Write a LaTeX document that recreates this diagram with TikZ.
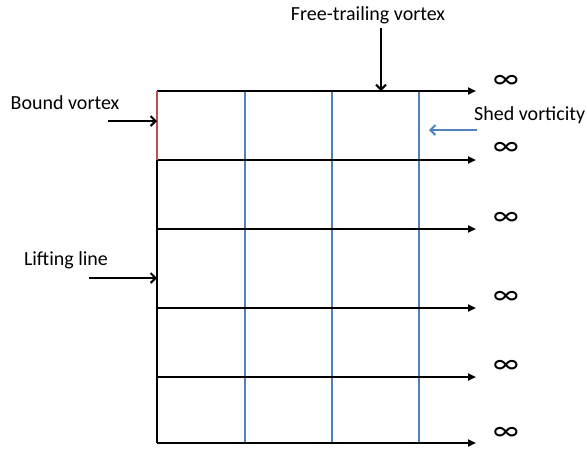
\documentclass[tikz,border=0pt]{standalone}
\usepackage{fontspec}
\setmainfont{Carlito}
\usetikzlibrary{arrows.meta}
\definecolor{shedblue}{HTML}{4F81BD}
\definecolor{boundred}{HTML}{C0504D}
\tikzset{
  gridline/.style={line width=2pt, -{Triangle[length=8pt,width=7pt]}},
  blueline/.style={line width=2pt, draw=shedblue},
  labelarrow/.style={line width=2pt, -{Straight Barb[length=5pt,width=10pt,line width=2pt]}},
  lbl/.style={font=\fontsize{20}{24}\selectfont, inner sep=0pt},
  infty/.style={font=\fontsize{30}{32}\selectfont, inner sep=0pt}
}
\begin{document}
\begin{tikzpicture}[x=1pt,y=-1pt]
\useasboundingbox (0,0) rectangle (587,448);
% grid coordinates
\foreach \i/\y in {1/91,2/160,3/229,4/308,5/377,6/443}{
  \coordinate (L\i) at (157,\y);
  \coordinate (R\i) at (476,\y);
}
\foreach \j/\x in {1/245,2/332,3/419}{
  \coordinate (T\j) at (\x,91);
  \coordinate (B\j) at (\x,443);
}
% left vertical line
\draw[line width=2pt] (L1) -- (L6);
% blue shed vortex lines
\foreach \j in {1,2,3}{ \draw[blueline] (T\j) -- (B\j); }
% horizontal trailing lines
\foreach \i in {1,...,6}{ \draw[gridline] (L\i) -- (R\i); }
% bound vortex (red)
\draw[line width=2pt, draw=boundred] (L1) -- (L2);
% infinity signs
\foreach \i/\y in {1/82,2/149,3/219,4/298,5/367,6/434}{
  \node[infty] (inf\i) at (506,\y) {∞};
}
% labels
\node[lbl] (ftv) at (368,15) {Free-trailing vortex};
\coordinate (ftvs) at (381,28);
\coordinate (ftve) at (381,91);
\draw[labelarrow] (ftvs) -- (ftve);

\node[lbl] (bv) at (65,103) {Bound vortex};
\coordinate (bvs) at (108,121);
\coordinate (bve) at (157,121);
\draw[labelarrow] (bvs) -- (bve);

\node[lbl] (ll) at (66,260) {Lifting line};
\coordinate (lls) at (89,278);
\coordinate (lle) at (157,278);
\draw[labelarrow] (lls) -- (lle);

\node[lbl, anchor=west] (sv) at (474,115) {Shed vorticity};
\coordinate (svs) at (477,130);
\coordinate (sve) at (429,130);
\draw[labelarrow, draw=shedblue] (svs) -- (sve);
\end{tikzpicture}
\end{document}
